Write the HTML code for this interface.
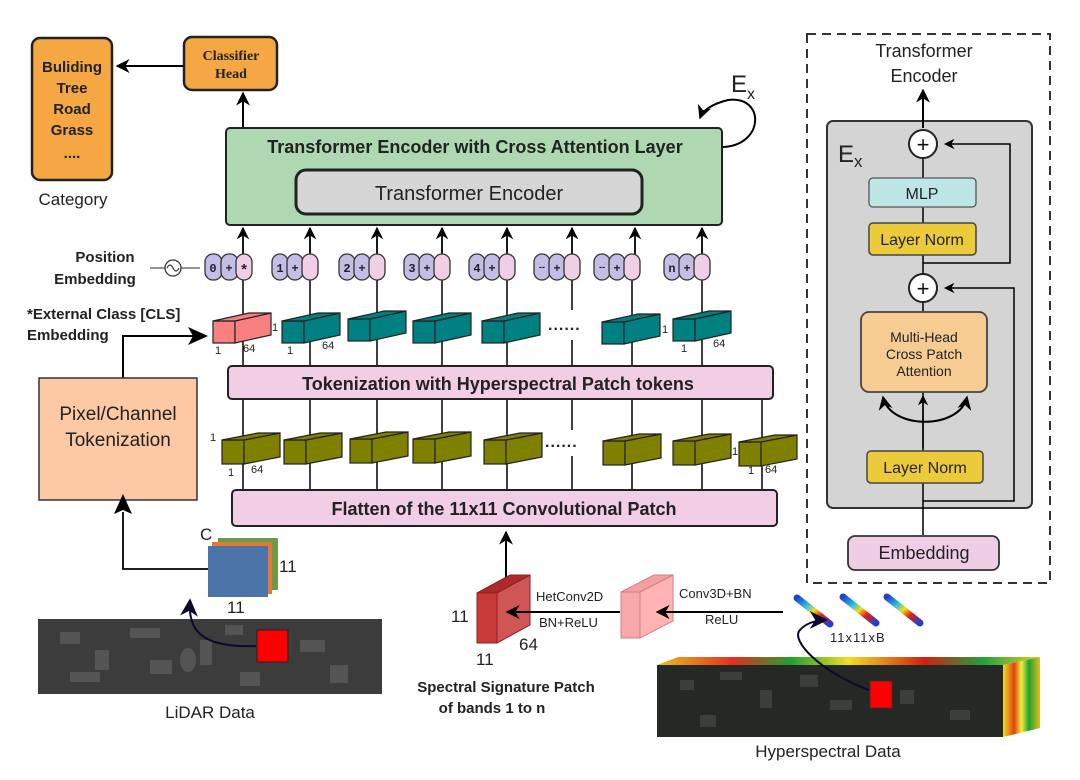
<!DOCTYPE html>
<html><head><meta charset="utf-8"><style>
body{margin:0;background:#fff}
svg{display:block;font-family:"Liberation Sans","DejaVu Sans",sans-serif}
</style></head><body>
<svg width="1080" height="780" viewBox="0 0 1080 780" xmlns="http://www.w3.org/2000/svg">
<defs>
<marker id="ah" viewBox="0 0 10 10" refX="9" refY="5" markerWidth="7" markerHeight="7" orient="auto-start-reverse"><path d="M0,0 L10,5 L0,10 L3,5z" fill="#000"/></marker>
<marker id="ahb" viewBox="0 0 10 10" refX="9" refY="5" markerWidth="9" markerHeight="9" orient="auto"><path d="M0,0 L10,5 L0,10 L3,5z" fill="#0a0a30"/></marker>
<linearGradient id="spec" x1="0" y1="0" x2="1" y2="0">
<stop offset="0" stop-color="#e8c020"/><stop offset=".2" stop-color="#e03020"/><stop offset=".35" stop-color="#20a030"/><stop offset=".5" stop-color="#f0e020"/><stop offset=".7" stop-color="#d02010"/><stop offset=".85" stop-color="#20a040"/><stop offset="1" stop-color="#e0d020"/></linearGradient>
<linearGradient id="side" x1="0" y1="0" x2="1" y2="0">
<stop offset="0" stop-color="#f0e020"/><stop offset=".3" stop-color="#e04010"/><stop offset=".5" stop-color="#f0f040"/><stop offset=".7" stop-color="#20a030"/><stop offset="1" stop-color="#e0c020"/></linearGradient>
<linearGradient id="tile" x1="0" y1="0" x2="1" y2="1">
<stop offset="0" stop-color="#2040d0"/><stop offset=".3" stop-color="#30c0e0"/><stop offset=".5" stop-color="#f0e020"/><stop offset=".7" stop-color="#e02010"/><stop offset="1" stop-color="#2040d0"/></linearGradient>
</defs>

<!-- Category -->
<rect x="32" y="38" width="80" height="142" rx="8" fill="#f4a742" stroke="#222" stroke-width="2.5"/>
<g font-weight="bold" font-size="15" text-anchor="middle" fill="#222">
<text x="72" y="72">Buliding</text><text x="72" y="93">Tree</text><text x="72" y="114">Road</text><text x="72" y="135">Grass</text><text x="72" y="158">....</text></g>
<text x="73" y="205" font-size="17" text-anchor="middle" fill="#222">Category</text>
<rect x="184" y="37" width="93" height="53" rx="8" fill="#f4a742" stroke="#222" stroke-width="2.5"/>
<g font-family="Liberation Serif,serif" font-weight="bold" font-size="14" text-anchor="middle" fill="#222"><text x="231" y="60">Classifier</text><text x="231" y="78">Head</text></g>
<line x1="183" y1="66" x2="117" y2="66" stroke="#000" stroke-width="2" marker-end="url(#ah)"/>
<line x1="243" y1="128" x2="243" y2="93" stroke="#000" stroke-width="2" marker-end="url(#ah)"/>

<!-- Transformer -->
<rect x="226" y="128" width="496" height="97" rx="4" fill="#aed8b2" stroke="#222" stroke-width="2"/>
<text x="475" y="153" font-size="18" font-weight="bold" text-anchor="middle" fill="#222">Transformer Encoder with Cross Attention Layer</text>
<rect x="296" y="170" width="346" height="44" rx="10" fill="#d6d6d6" stroke="#222" stroke-width="3"/>
<text x="469" y="200" font-size="20" text-anchor="middle" fill="#222">Transformer Encoder</text>
<path d="M723,147 C765,145 765,95 728,100 C712,104 703,110 700,118" fill="none" stroke="#000" stroke-width="2" marker-end="url(#ah)"/>
<text x="731" y="92" font-size="24" fill="#222">E</text><text x="747" y="99" font-size="16" fill="#222">x</text>

<!-- up arrows to transformer -->
<g stroke="#000" stroke-width="1.8" marker-end="url(#ah)">
<line x1="243" y1="254" x2="243" y2="228"/><line x1="310" y1="254" x2="310" y2="228"/><line x1="377" y1="254" x2="377" y2="228"/><line x1="442" y1="254" x2="442" y2="228"/><line x1="507" y1="254" x2="507" y2="228"/><line x1="572" y1="254" x2="572" y2="228"/><line x1="635" y1="254" x2="635" y2="228"/><line x1="702" y1="254" x2="702" y2="228"/>
</g>

<!-- vertical lines -->
<g stroke="#000" stroke-width="1.5">
<line x1="243" y1="280" x2="243" y2="490"/><line x1="310" y1="280" x2="310" y2="490"/><line x1="377" y1="280" x2="377" y2="490"/><line x1="442" y1="280" x2="442" y2="490"/><line x1="507" y1="280" x2="507" y2="490"/><line x1="572" y1="280" x2="572" y2="310"/><line x1="572" y1="340" x2="572" y2="430"/><line x1="572" y1="456" x2="572" y2="490"/><line x1="632" y1="280" x2="632" y2="490"/><line x1="702" y1="280" x2="702" y2="490"/><line x1="762" y1="400" x2="762" y2="490"/>
</g>

<!-- position tokens -->
<g font-size="12" font-weight="bold" text-anchor="middle" fill="#222" stroke-width="1.3">
<g stroke="#333"><rect x="205" y="254" width="17" height="26" rx="8" fill="#c4bde6"/><rect x="221" y="254" width="17" height="26" rx="8" fill="#c4bde6"/><rect x="236" y="254" width="16" height="26" rx="8" fill="#f0cfe6"/></g>
<text x="213" y="272" font-family="Liberation Mono,monospace">0</text><text x="229" y="272">+</text><text x="244" y="274" font-size="15">*</text>
</g>
<g font-size="12" font-weight="bold" text-anchor="middle" fill="#222" stroke-width="1.3">
<g transform="translate(272,0)"><g stroke="#333"><rect x="0" y="254" width="16" height="26" rx="8" fill="#c4bde6"/><rect x="15" y="254" width="16" height="26" rx="8" fill="#c4bde6"/><rect x="30" y="254" width="16" height="26" rx="8" fill="#f0cfe6"/></g><text x="8" y="272" font-family="Liberation Mono,monospace">1</text><text x="23" y="272">+</text></g>
<g transform="translate(339,0)"><g stroke="#333"><rect x="0" y="254" width="16" height="26" rx="8" fill="#c4bde6"/><rect x="15" y="254" width="16" height="26" rx="8" fill="#c4bde6"/><rect x="30" y="254" width="16" height="26" rx="8" fill="#f0cfe6"/></g><text x="8" y="272" font-family="Liberation Mono,monospace">2</text><text x="23" y="272">+</text></g>
<g transform="translate(404,0)"><g stroke="#333"><rect x="0" y="254" width="16" height="26" rx="8" fill="#c4bde6"/><rect x="15" y="254" width="16" height="26" rx="8" fill="#c4bde6"/><rect x="30" y="254" width="16" height="26" rx="8" fill="#f0cfe6"/></g><text x="8" y="272" font-family="Liberation Mono,monospace">3</text><text x="23" y="272">+</text></g>
<g transform="translate(469,0)"><g stroke="#333"><rect x="0" y="254" width="16" height="26" rx="8" fill="#c4bde6"/><rect x="15" y="254" width="16" height="26" rx="8" fill="#c4bde6"/><rect x="30" y="254" width="16" height="26" rx="8" fill="#f0cfe6"/></g><text x="8" y="272" font-family="Liberation Mono,monospace">4</text><text x="23" y="272">+</text></g>
<g transform="translate(534,0)"><g stroke="#333"><rect x="0" y="254" width="16" height="26" rx="8" fill="#c4bde6"/><rect x="15" y="254" width="16" height="26" rx="8" fill="#c4bde6"/><rect x="30" y="254" width="16" height="26" rx="8" fill="#f0cfe6"/></g><text x="8" y="270" font-size="9">--</text><text x="23" y="272">+</text></g>
<g transform="translate(594,0)"><g stroke="#333"><rect x="0" y="254" width="16" height="26" rx="8" fill="#c4bde6"/><rect x="15" y="254" width="16" height="26" rx="8" fill="#c4bde6"/><rect x="30" y="254" width="16" height="26" rx="8" fill="#f0cfe6"/></g><text x="8" y="270" font-size="9">--</text><text x="23" y="272">+</text></g>
<g transform="translate(664,0)"><g stroke="#333"><rect x="0" y="254" width="16" height="26" rx="8" fill="#c4bde6"/><rect x="15" y="254" width="16" height="26" rx="8" fill="#c4bde6"/><rect x="30" y="254" width="16" height="26" rx="8" fill="#f0cfe6"/></g><text x="8" y="272" font-family="Liberation Mono,monospace">n</text><text x="23" y="272">+</text></g>
</g>

<text x="105" y="262" font-size="15" font-weight="bold" text-anchor="middle" fill="#222">Position</text>
<text x="95" y="284" font-size="15" font-weight="bold" text-anchor="middle" fill="#222">Embedding</text>
<line x1="150" y1="268" x2="200" y2="268" stroke="#555" stroke-width="1.3"/>
<circle cx="173" cy="268" r="8" fill="#fff" stroke="#333" stroke-width="1.3"/>
<path d="M167,268 q3,-6 6,0 q3,6 6,0" fill="none" stroke="#333" stroke-width="1.2"/>

<text x="27" y="319" font-size="15" font-weight="bold" fill="#222">*External Class [CLS]</text>
<text x="27" y="340" font-size="15" font-weight="bold" fill="#222">Embedding</text>
<polyline points="123,378 123,336 195,336" fill="none" stroke="#000" stroke-width="2"/>
<path d="M188,327 L208,336 L188,345 L193,336z" fill="#000"/>

<!-- teal/pink tokens -->
<g stroke="#222" stroke-width="1.2">
<g transform="translate(213,313)" fill="#f88080"><rect x="0" y="8" width="22" height="22"/><polygon points="22,8 58,0 58,22 22,30"/><polygon points="0,8 36,0 58,0 22,8"/></g>
<g fill="#008080">
<g transform="translate(282,313)"><rect x="0" y="8" width="22" height="22"/><polygon points="22,8 58,0 58,22 22,30"/><polygon points="0,8 36,0 58,0 22,8"/></g>
<g transform="translate(348,311)"><rect x="0" y="8" width="22" height="22"/><polygon points="22,8 58,0 58,22 22,30"/><polygon points="0,8 36,0 58,0 22,8"/></g>
<g transform="translate(413,313)"><rect x="0" y="8" width="22" height="22"/><polygon points="22,8 58,0 58,22 22,30"/><polygon points="0,8 36,0 58,0 22,8"/></g>
<g transform="translate(482,313)"><rect x="0" y="8" width="22" height="22"/><polygon points="22,8 58,0 58,22 22,30"/><polygon points="0,8 36,0 58,0 22,8"/></g>
<g transform="translate(602,314)"><rect x="0" y="8" width="22" height="22"/><polygon points="22,8 58,0 58,22 22,30"/><polygon points="0,8 36,0 58,0 22,8"/></g>
<g transform="translate(673,311)"><rect x="0" y="8" width="22" height="22"/><polygon points="22,8 58,0 58,22 22,30"/><polygon points="0,8 36,0 58,0 22,8"/></g>
</g>
<g fill="#7f7f00">
<g transform="translate(222,433)"><rect x="0" y="7" width="22" height="24"/><polygon points="22,7 58,0 58,24 22,31"/><polygon points="0,7 36,0 58,0 22,7"/></g>
<g transform="translate(284,433)"><rect x="0" y="7" width="22" height="24"/><polygon points="22,7 58,0 58,24 22,31"/><polygon points="0,7 36,0 58,0 22,7"/></g>
<g transform="translate(350,432)"><rect x="0" y="7" width="22" height="24"/><polygon points="22,7 58,0 58,24 22,31"/><polygon points="0,7 36,0 58,0 22,7"/></g>
<g transform="translate(413,432)"><rect x="0" y="7" width="22" height="24"/><polygon points="22,7 58,0 58,24 22,31"/><polygon points="0,7 36,0 58,0 22,7"/></g>
<g transform="translate(484,433)"><rect x="0" y="7" width="22" height="24"/><polygon points="22,7 58,0 58,24 22,31"/><polygon points="0,7 36,0 58,0 22,7"/></g>
<g transform="translate(603,434)"><rect x="0" y="7" width="22" height="24"/><polygon points="22,7 58,0 58,24 22,31"/><polygon points="0,7 36,0 58,0 22,7"/></g>
<g transform="translate(673,434)"><rect x="0" y="7" width="22" height="24"/><polygon points="22,7 58,0 58,24 22,31"/><polygon points="0,7 36,0 58,0 22,7"/></g>
<g transform="translate(739,435)"><rect x="0" y="7" width="22" height="24"/><polygon points="22,7 58,0 58,24 22,31"/><polygon points="0,7 36,0 58,0 22,7"/></g>
</g>
</g>
<g font-size="11" fill="#222">
<text x="272" y="331">1</text><text x="215" y="354">1</text><text x="243" y="352">64</text>
<text x="287" y="354">1</text><text x="322" y="349">64</text>
<text x="662" y="333">1</text><text x="681" y="352">1</text><text x="713" y="347">64</text>
<text x="210" y="441">1</text><text x="228" y="476">1</text><text x="251" y="473">64</text>
<text x="732" y="455">1</text><text x="748" y="474">1</text><text x="765" y="473">64</text>
</g>
<text x="548" y="330" font-size="16" font-weight="bold" fill="#222" letter-spacing="1">......</text>
<text x="545" y="447" font-size="16" font-weight="bold" fill="#222" letter-spacing="1">......</text>

<rect x="228" y="366" width="545" height="33" rx="4" fill="#f2cde6" stroke="#222" stroke-width="2"/>
<text x="498" y="390" font-size="18" font-weight="bold" text-anchor="middle" fill="#222">Tokenization with Hyperspectral Patch tokens</text>
<rect x="232" y="490" width="545" height="36" rx="4" fill="#f2cde6" stroke="#222" stroke-width="2"/>
<text x="504" y="515" font-size="18" font-weight="bold" text-anchor="middle" fill="#222">Flatten of the 11x11 Convolutional Patch</text>

<!-- Pixel/Channel -->
<rect x="39" y="378" width="158" height="122" fill="#fdc8a4" stroke="#333" stroke-width="1.5"/>
<text x="118" y="420" font-size="19" text-anchor="middle" fill="#222">Pixel/Channel</text>
<text x="118" y="446" font-size="19" text-anchor="middle" fill="#222">Tokenization</text>
<polyline points="208,569 123,569 123,512" fill="none" stroke="#000" stroke-width="1.8"/>
<path d="M114,514 L123,494 L132,514 L123,510z" fill="#000"/>

<!-- LiDAR patch -->
<rect x="218" y="538" width="60" height="52" fill="#6a9a4a"/>
<rect x="212" y="542" width="60" height="52" fill="#e07a38"/>
<rect x="208" y="546" width="60" height="51" fill="#4d74a8"/>
<text x="200" y="540" font-size="17" fill="#222">C</text>
<text x="279" y="572" font-size="17" fill="#222">11</text>
<text x="227" y="613" font-size="17" fill="#222">11</text>

<!-- LiDAR image -->
<rect x="38" y="619" width="344" height="75" fill="#3c3c3c"/>
<g fill="#5a5a5a" opacity=".8">
<rect x="60" y="632" width="20" height="12"/><rect x="95" y="650" width="14" height="20"/><rect x="130" y="628" width="30" height="10"/><rect x="150" y="660" width="22" height="14"/><rect x="200" y="640" width="12" height="25"/><rect x="225" y="625" width="18" height="10"/><rect x="300" y="640" width="25" height="12"/><rect x="330" y="665" width="18" height="18"/><rect x="70" y="672" width="30" height="10"/><rect x="240" y="672" width="20" height="14"/>
<ellipse cx="188" cy="660" rx="8" ry="12"/>
</g>
<rect x="257" y="630" width="31" height="32" fill="#ff0000" stroke="#222" stroke-width="1"/>
<path d="M256,646 C200,648 188,630 190,600" fill="none" stroke="#0a0a30" stroke-width="2" marker-end="url(#ahb)"/>
<text x="210" y="718" font-size="17" text-anchor="middle" fill="#222">LiDAR Data</text>

<!-- spectral blocks -->
<line x1="506" y1="583" x2="506" y2="532" stroke="#000" stroke-width="2" marker-end="url(#ah)"/>
<g stroke="#8a2020" stroke-width="1">
<polygon points="477,593 510,575 530,575 497,593" fill="#b02a2a"/>
<polygon points="497,593 530,575 530,625 497,643" fill="#d05656"/>
<rect x="477" y="593" width="20" height="50" fill="#c83a3a"/>
</g>
<g stroke="#d08080" stroke-width="1">
<polygon points="621,592 654,575 673,575 640,592" fill="#f4a0a0"/>
<polygon points="640,592 673,575 673,621 640,638" fill="#ffb4b4"/>
<rect x="621" y="592" width="19" height="46" fill="#f8a8a8"/>
</g>
<line x1="620" y1="612" x2="507" y2="612" stroke="#000" stroke-width="2" marker-end="url(#ah)"/>
<line x1="783" y1="612" x2="657" y2="612" stroke="#000" stroke-width="2" marker-end="url(#ah)"/>
<text x="451" y="622" font-size="17" fill="#222">11</text>
<text x="476" y="665" font-size="17" fill="#222">11</text>
<text x="519" y="650" font-size="17" fill="#222">64</text>
<text x="536" y="601" font-size="13" fill="#222">HetConv2D</text>
<text x="539" y="627" font-size="13" fill="#222">BN+ReLU</text>
<text x="679" y="598" font-size="13" fill="#222">Conv3D+BN</text>
<text x="705" y="624" font-size="13" fill="#222">ReLU</text>
<text x="506" y="692" font-size="15" font-weight="bold" text-anchor="middle" fill="#222">Spectral Signature Patch</text>
<text x="492" y="713" font-size="15" font-weight="bold" text-anchor="middle" fill="#222">of bands 1 to n</text>

<!-- tiles -->
<g stroke-linecap="round">
<line x1="797" y1="598" x2="830" y2="624" stroke="url(#tile)" stroke-width="7"/>
<line x1="843" y1="597" x2="876" y2="623" stroke="url(#tile)" stroke-width="7"/>
<line x1="887" y1="597" x2="920" y2="623" stroke="url(#tile)" stroke-width="7"/>
</g>
<text x="830" y="642" font-size="13" fill="#222" letter-spacing="1">11x11xB</text>

<!-- hyperspectral cube -->
<polygon points="657,665 678,657 1040,657 1003,665" fill="url(#spec)"/>
<polygon points="1003,665 1040,657 1040,728 1003,737" fill="url(#side)"/>
<rect x="657" y="665" width="346" height="72" fill="#252825"/>
<g fill="#3e423e" opacity=".9">
<rect x="680" y="680" width="14" height="10"/><rect x="720" y="672" width="22" height="8"/><rect x="760" y="690" width="12" height="18"/><rect x="800" y="675" width="18" height="12"/><rect x="830" y="700" width="22" height="10"/><rect x="700" y="715" width="16" height="12"/><rect x="900" y="690" width="14" height="14"/><rect x="950" y="710" width="20" height="10"/>
</g>
<rect x="870" y="681" width="22" height="27" fill="#ff0000" stroke="#333" stroke-width=".8"/>
<path d="M869,690 C820,672 790,640 800,630 C805,624 815,620 826,620" fill="none" stroke="#0a0a30" stroke-width="2" marker-end="url(#ahb)"/>
<text x="828" y="757" font-size="17" text-anchor="middle" fill="#222">Hyperspectral Data</text>

<!-- right panel -->
<rect x="807" y="34" width="243" height="549" fill="none" stroke="#333" stroke-width="2" stroke-dasharray="9,6"/>
<text x="924" y="57" font-size="18" text-anchor="middle" fill="#222">Transformer</text>
<text x="924" y="82" font-size="18" text-anchor="middle" fill="#222">Encoder</text>
<rect x="827" y="121" width="205" height="387" rx="6" fill="#d4d4d4" stroke="#333" stroke-width="2"/>
<line x1="923" y1="128" x2="923" y2="90" stroke="#000" stroke-width="2" marker-end="url(#ah)"/>
<text x="838" y="162" font-size="24" fill="#222">E</text><text x="854" y="167" font-size="17" fill="#222">x</text>
<line x1="923" y1="535" x2="923" y2="158" stroke="#000" stroke-width="1.5"/>
<polyline points="923,501 1014,501 1014,288 945,288" fill="none" stroke="#000" stroke-width="1.5" marker-end="url(#ah)"/>
<polyline points="923,263 1010,263 1010,144 945,144" fill="none" stroke="#000" stroke-width="1.5" marker-end="url(#ah)"/>
<circle cx="923" cy="144" r="14" fill="#fff" stroke="#222" stroke-width="2"/>
<text x="923" y="152" font-size="22" text-anchor="middle" fill="#111">+</text>
<circle cx="923" cy="288" r="14" fill="#fff" stroke="#222" stroke-width="2"/>
<text x="923" y="296" font-size="22" text-anchor="middle" fill="#111">+</text>
<rect x="869" y="178" width="107" height="29" rx="4" fill="#bfe6e6" stroke="#555" stroke-width="1.3"/>
<text x="922" y="199" font-size="16" text-anchor="middle" fill="#222">MLP</text>
<rect x="869" y="223" width="107" height="32" rx="4" fill="#eccb3a" stroke="#444" stroke-width="1.5"/>
<text x="922" y="245" font-size="16" text-anchor="middle" fill="#222">Layer Norm</text>
<rect x="861" y="312" width="126" height="80" rx="8" fill="#f7cc92" stroke="#444" stroke-width="1.8"/>
<text x="924" y="342" font-size="14" text-anchor="middle" fill="#222">Multi-Head</text>
<text x="924" y="359" font-size="14" text-anchor="middle" fill="#222">Cross Patch</text>
<text x="924" y="376" font-size="14" text-anchor="middle" fill="#222">Attention</text>
<line x1="923" y1="448" x2="923" y2="396" stroke="#000" stroke-width="1.5" marker-end="url(#ah)"/>
<path d="M883,397 C890,430 960,430 967,397" fill="none" stroke="#000" stroke-width="2" marker-start="url(#ah)" marker-end="url(#ah)"/>
<rect x="867" y="451" width="116" height="32" rx="4" fill="#eccb3a" stroke="#444" stroke-width="1.5"/>
<text x="925" y="473" font-size="16" text-anchor="middle" fill="#222">Layer Norm</text>
<rect x="848" y="536" width="151" height="34" rx="7" fill="#f0cde6" stroke="#333" stroke-width="1.8"/>
<text x="924" y="559" font-size="18" text-anchor="middle" fill="#222">Embedding</text>
</svg>
</body></html>
